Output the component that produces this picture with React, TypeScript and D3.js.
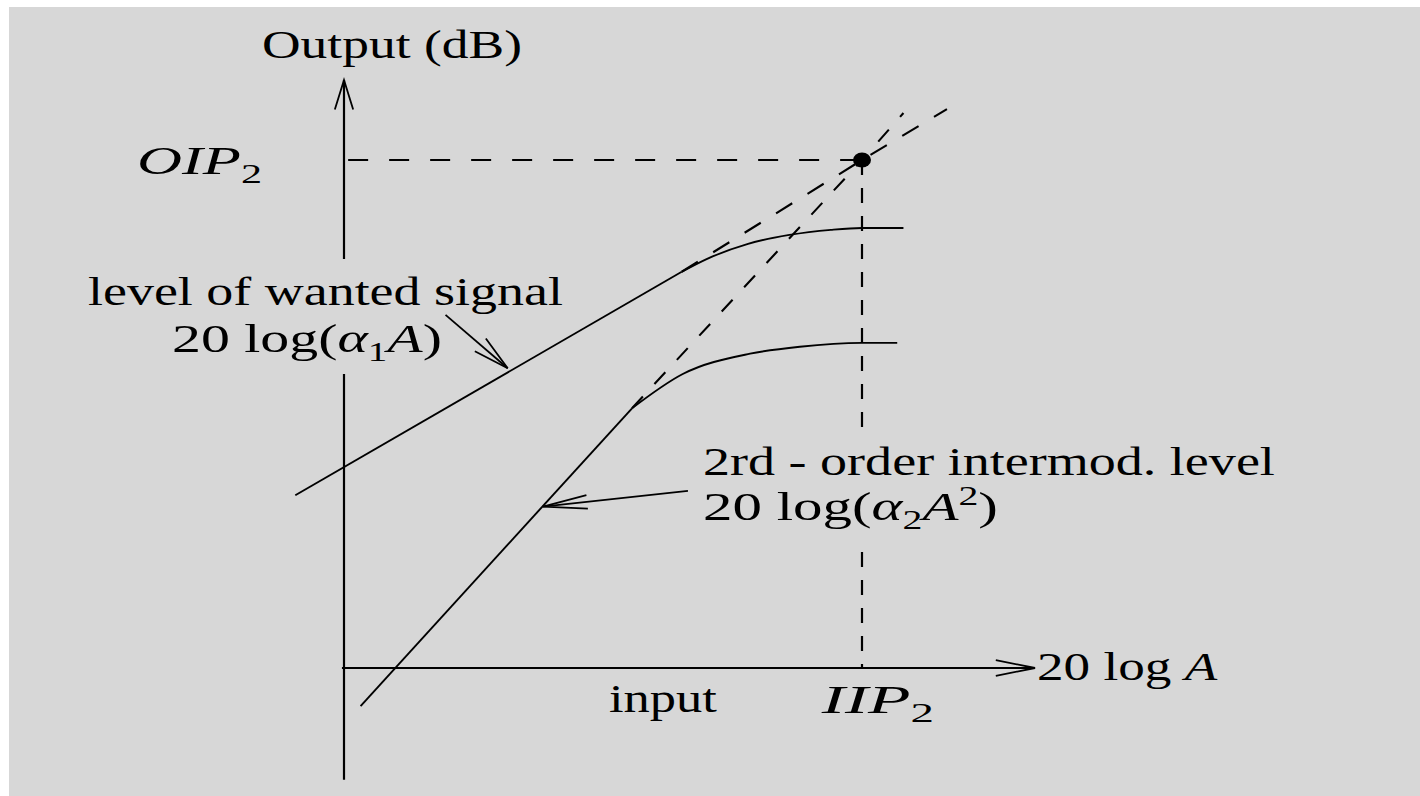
import React, { useEffect, useRef } from "react";
import * as d3 from "d3";

// input level (x, dB) against output level (y, dB)
const intercept = { x: 50, y: 80 };
const wantedLinear = [ { x: -4.7, y: 27.2 }, { x: 32.6, y: 62.4 } ];
const wantedCompressed = [
  { x: 32.6, y: 62.4 }, { x: 35, y: 64.4 }, { x: 39, y: 66.8 },
  { x: 43, y: 68.2 }, { x: 47, y: 69.0 }, { x: 50, y: 69.3 }, { x: 54, y: 69.3 },
];
const wantedExtrapolated = [ { x: 32.6, y: 62.4 }, { x: 50, y: 80 }, { x: 58.2, y: 88 } ];
const imLinear = [ { x: 1.6, y: -6 }, { x: 27.8, y: 40.9 } ];
const imCompressed = [
  { x: 27.8, y: 40.9 }, { x: 32.7, y: 46.3 }, { x: 39.2, y: 49.5 },
  { x: 44, y: 50.6 }, { x: 50, y: 51.2 }, { x: 53.4, y: 51.2 },
];
const imExtrapolated = [ { x: 27.8, y: 40.9 }, { x: 50, y: 80 }, { x: 54, y: 87.4 } ];
const wantedPointer = [ { x: 9.8, y: 55.6 }, { x: 15.8, y: 47.2 } ];
const imPointer = [ { x: 33.2, y: 27.9 }, { x: 19.2, y: 25.4 } ];
const xAxisExtent = [-0.2, 66.7];
const yAxisExtent = [-17.6, 92.6];

// labels (i = italic, sub / sup = script)
const outputLabel = [{ t: "Output (dB)" }];
const oipLabel = [{ t: "OIP", i: true }, { t: "2", sub: true }];
const wantedLabel1 = [{ t: "level of wanted signal" }];
const wantedLabel2 = [{ t: "20 log(" }, { t: "α", i: true }, { t: "1", sub: true }, { t: "A", i: true }, { t: ")" }];
const imLabel1 = [{ t: "2rd - order intermod. level" }];
const imLabel2 = [{ t: "20 log(" }, { t: "α", i: true }, { t: "2", sub: true }, { t: "A", i: true }, { t: "2", sup: true }, { t: ")" }];
const inputLabel = [{ t: "input" }];
const iipLabel = [{ t: "IIP", i: true }, { t: "2", sub: true }];
const xAxisLabel = [{ t: "20 log " }, { t: "A", i: true }];

const FONT = "Liberation Serif";
const BG = "#d7d7d7";

export default function App() {
  const svgRef = useRef(null);

  useEffect(() => {
    const width = 1420;
    const height = 796;
    const svg = d3.select(svgRef.current);
    svg.selectAll("*").remove();
    svg.attr("width", width).attr("height", height);

    svg.append("rect").attr("width", width).attr("height", height).attr("fill", "#fff");
    svg.append("rect").attr("x", 9).attr("y", 7).attr("width", width - 9).attr("height", height - 7).attr("fill", BG);

    const x = d3.scaleLinear().domain([0, 50]).range([344, 862]);
    const y = d3.scaleLinear().domain([0, 80]).range([668, 160]);
    const line = d3.line().x((d) => x(d.x)).y((d) => y(d.y));
    const smooth = d3.line().x((d) => x(d.x)).y((d) => y(d.y)).curve(d3.curveMonotoneX);

    const arrowHead = (g, tail, tip, len, half, sw) => {
      const a = Math.atan2(tail[1] - tip[1], tail[0] - tip[0]);
      const arms = [a - half, a + half].map((b) => [tip[0] + len * Math.cos(b), tip[1] + len * Math.sin(b)]);
      g.append("path")
        .attr("d", `M${arms[0][0]},${arms[0][1]}L${tip[0]},${tip[1]}L${arms[1][0]},${arms[1][1]}`)
        .attr("fill", "none").attr("stroke", "#000").attr("stroke-width", sw);
    };

    // axes
    const axes = svg.append("g");
    axes.append("line")
      .attr("x1", x(0)).attr("x2", x(0)).attr("y1", y(yAxisExtent[0])).attr("y2", y(yAxisExtent[1]))
      .attr("stroke", "#000").attr("stroke-width", 2.2);
    arrowHead(axes, [x(0), y(0)], [x(0), y(yAxisExtent[1])], 31, 0.3, 1.8);
    axes.append("line")
      .attr("x1", x(xAxisExtent[0])).attr("x2", x(xAxisExtent[1])).attr("y1", y(0)).attr("y2", y(0))
      .attr("stroke", "#000").attr("stroke-width", 1.8);
    arrowHead(axes, [x(0), y(0)], [x(xAxisExtent[1]), y(0)], 40, 0.2, 1.8);

    // guide lines to the intercept point
    svg.append("line")
      .attr("x1", x(0.4)).attr("x2", x(intercept.x)).attr("y1", y(intercept.y)).attr("y2", y(intercept.y))
      .attr("stroke", "#000").attr("stroke-width", 1.8).attr("stroke-dasharray", "20,21");
    svg.append("line")
      .attr("x1", x(intercept.x)).attr("x2", x(intercept.x)).attr("y1", y(intercept.y)).attr("y2", y(0))
      .attr("stroke", "#000").attr("stroke-width", 2.2).attr("stroke-dasharray", "15,13");

    // label masks
    const layout = {
      output: { left: 262, baseline: 58, width: 260 },
      oip: { left: 137, baseline: 174, width: 125 },
      wanted1: { left: 88, baseline: 305, width: 475 },
      wanted2: { left: 172, baseline: 352, width: 270 },
      im1: { left: 703, baseline: 475, width: 572 },
      im2: { left: 703, baseline: 520, width: 295 },
      input: { left: 609, baseline: 712, width: 108 },
      iip: { left: 820, baseline: 713, width: 114 },
      xlab: { left: 1037, baseline: 680, width: 181 },
    };
    const mask = (a, b) => {
      svg.append("rect")
        .attr("x", Math.min(a.left, b.left) - 8)
        .attr("y", a.baseline - 46)
        .attr("width", Math.max(a.left + a.width, b.left + b.width) - Math.min(a.left, b.left) + 16)
        .attr("height", b.baseline + 22 - (a.baseline - 46))
        .attr("fill", BG);
    };
    mask(layout.wanted1, layout.wanted2);
    mask(layout.im1, layout.im2);

    // curves
    const curves = svg.append("g").attr("fill", "none").attr("stroke", "#000").attr("stroke-width", 1.9);
    curves.append("path").attr("d", line(wantedLinear));
    curves.append("path").attr("d", smooth(wantedCompressed));
    curves.append("path").attr("d", line(imLinear));
    curves.append("path").attr("d", smooth(imCompressed));
    curves.append("path").attr("d", line(wantedExtrapolated)).attr("stroke-dasharray", "19,18").attr("stroke-width", 2.1);
    curves.append("path").attr("d", line(imExtrapolated)).attr("stroke-dasharray", "16,17").attr("stroke-width", 2.1);

    svg.append("ellipse")
      .attr("cx", x(intercept.x)).attr("cy", y(intercept.y)).attr("rx", 9).attr("ry", 7.5).attr("fill", "#000");

    // pointers
    const pointers = svg.append("g");
    [[wantedPointer, 37, 0.23], [imPointer, 45, 0.15]].forEach(([pts, len, half]) => {
      const tail = [x(pts[0].x), y(pts[0].y)];
      const tip = [x(pts[1].x), y(pts[1].y)];
      pointers.append("line")
        .attr("x1", tail[0]).attr("y1", tail[1]).attr("x2", tip[0]).attr("y2", tip[1])
        .attr("stroke", "#000").attr("stroke-width", 1.8);
      arrowHead(pointers, tail, tip, len, half, 1.8);
    });

    // labels, stretched horizontally like the source figure
    const drawLabel = (parts, box) => {
      const text = svg.append("text")
        .attr("font-family", FONT).attr("font-size", 40).attr("fill", "#000");
      let shift = 0;
      parts.forEach((p) => {
        const target = p.sub ? 9 : p.sup ? -15 : 0;
        text.append("tspan")
          .attr("dy", target - shift)
          .attr("font-style", p.i ? "italic" : "normal")
          .attr("font-size", p.sub || p.sup ? 27 : 40)
          .text(p.t);
        shift = target;
      });
      const bb = text.node().getBBox();
      const sx = box.width / bb.width;
      text.attr("transform", `translate(${box.left - bb.x * sx},${box.baseline}) scale(${sx},1)`);
    };
    drawLabel(outputLabel, layout.output);
    drawLabel(oipLabel, layout.oip);
    drawLabel(wantedLabel1, layout.wanted1);
    drawLabel(wantedLabel2, layout.wanted2);
    drawLabel(imLabel1, layout.im1);
    drawLabel(imLabel2, layout.im2);
    drawLabel(inputLabel, layout.input);
    drawLabel(iipLabel, layout.iip);
    drawLabel(xAxisLabel, layout.xlab);
  }, []);

  return (
    <svg ref={svgRef} style={{ position: "absolute", left: 0, top: 0, display: "block" }}></svg>
  );
}
